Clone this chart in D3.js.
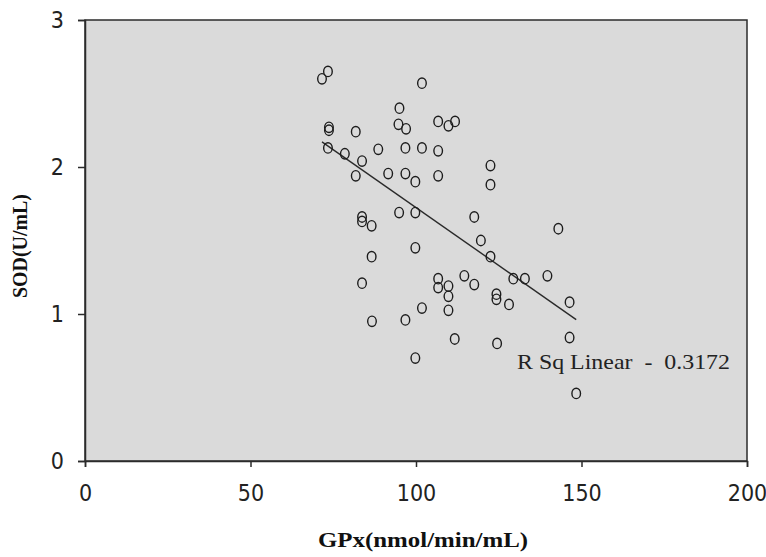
<!DOCTYPE html>
<html>
<head>
<meta charset="utf-8">
<script src="https://cdn.jsdelivr.net/npm/d3@7"></script>
<style>
  html, body { margin: 0; padding: 0; background: #ffffff; }
  svg { display: block; }
</style>
</head>
<body>
<svg id="chart" width="766" height="557"></svg>
<script>
// GPx activity (nmol/min/mL) and SOD activity (U/mL), one entry per subject
const gpx = [
  71.6, 73.4, 73.7, 73.7, 73.4, 81.8, 78.5, 83.7, 81.8, 88.6,
  91.6, 95.0, 94.7, 97.0, 96.8, 96.8, 99.8, 101.8, 101.8, 106.7,
  109.8, 111.8, 106.7, 106.7, 122.5, 122.5, 94.9, 99.8, 83.7, 83.7,
  86.6, 117.6, 119.6, 122.5, 99.8, 86.6, 83.7, 106.7, 106.7, 109.8,
  109.8, 114.6, 117.6, 109.8, 101.8, 96.8, 86.7, 111.7, 99.8, 124.3,
  124.3, 124.5, 143.0, 129.4, 132.9, 139.7, 128.1, 146.4, 146.4, 148.4
];
const sod = [
  2.60, 2.65, 2.27, 2.25, 2.13, 2.24, 2.09, 2.04, 1.94, 2.12,
  1.955, 2.40, 2.29, 2.26, 2.13, 1.955, 1.90, 2.57, 2.13, 2.31,
  2.28, 2.31, 2.11, 1.94, 2.01, 1.88, 1.69, 1.69, 1.66, 1.63,
  1.60, 1.66, 1.50, 1.39, 1.45, 1.39, 1.21, 1.24, 1.18, 1.19,
  1.12, 1.26, 1.20, 1.025, 1.04, 0.96, 0.95, 0.83, 0.70, 1.135,
  1.10, 0.80, 1.58, 1.24, 1.24, 1.26, 1.065, 1.08, 0.84, 0.46
];

// Axis ticks and titles
const xTicks = [0, 50, 100, 150, 200];
const yTicks = [0, 1, 2, 3];
const xTitle = "GPx(nmol/min/mL)";
const yTitle = "SOD(U/mL)";

// Linear fit of SOD on GPx
const trendSlope = -0.01575;
const trendIntercept = 3.299;
const rSquared = 0.3172;

const plot = { left: 85, right: 747, top: 20, bottom: 461 };

const svg = d3.select("#chart");

const x = d3.scaleLinear().domain([0, 200]).range([plot.left, plot.right]);
const y = d3.scaleLinear().domain([0, 3]).range([plot.bottom, plot.top]);

const tickFont = "'Liberation Sans Narrow', 'DejaVu Sans Condensed', 'Liberation Sans', sans-serif";
const titleFont = "'Liberation Serif', 'DejaVu Serif', serif";

// Plot area background and frame
svg.append("rect")
  .attr("x", plot.left).attr("y", plot.top)
  .attr("width", plot.right - plot.left).attr("height", plot.bottom - plot.top)
  .attr("fill", "#dadada")
  .attr("stroke", "#2b2b2b")
  .attr("stroke-width", 1.5);

// Axes
const xAxis = svg.append("g")
  .attr("transform", `translate(0,${plot.bottom})`)
  .call(d3.axisBottom(x).tickValues(xTicks).tickSize(6).tickPadding(18).tickFormat(d3.format("d")));

const yAxis = svg.append("g")
  .attr("transform", `translate(${plot.left},0)`)
  .call(d3.axisLeft(y).tickValues(yTicks).tickSize(7).tickPadding(14).tickFormat(d3.format("d")));

[xAxis, yAxis].forEach(g => {
  g.select(".domain").attr("stroke", "#2b2b2b").attr("stroke-width", 1.5);
  g.selectAll(".tick line").attr("stroke", "#2b2b2b").attr("stroke-width", 1.5);
  g.selectAll(".tick text")
    .attr("fill", "#222")
    .style("font-family", tickFont)
    .style("font-size", "23px");
});

// Trend line over the observed GPx range
const xExtent = d3.extent(gpx);
svg.append("line")
  .attr("x1", x(xExtent[0])).attr("y1", y(trendIntercept + trendSlope * xExtent[0]))
  .attr("x2", x(xExtent[1])).attr("y2", y(trendIntercept + trendSlope * xExtent[1]))
  .attr("stroke", "#2a2a2a")
  .attr("stroke-width", 1.4);

// Observations as hollow markers
svg.append("g")
  .selectAll("ellipse")
  .data(gpx.map((g, i) => [g, sod[i]]))
  .join("ellipse")
  .attr("cx", d => x(d[0]))
  .attr("cy", d => y(d[1]))
  .attr("rx", 4.3)
  .attr("ry", 5.2)
  .attr("fill", "none")
  .attr("stroke", "#1c1c1c")
  .attr("stroke-width", 1.4);

// Goodness-of-fit label
svg.append("text")
  .attr("x", 517).attr("y", 369)
  .attr("textLength", 213).attr("lengthAdjust", "spacingAndGlyphs")
  .attr("fill", "#222")
  .style("font-family", titleFont)
  .style("font-size", "21px")
  .style("white-space", "pre")
  .text(`R Sq Linear\u00a0\u00a0-\u00a0\u00a0${rSquared.toFixed(4)}`);

// Axis titles
svg.append("text")
  .attr("x", 423).attr("y", 547)
  .attr("text-anchor", "middle")
  .attr("textLength", 210).attr("lengthAdjust", "spacingAndGlyphs")
  .attr("fill", "#111")
  .style("font-family", titleFont)
  .style("font-size", "20px")
  .style("font-weight", "bold")
  .text(xTitle);

svg.append("text")
  .attr("transform", "translate(27,246) rotate(-90)")
  .attr("text-anchor", "middle")
  .attr("textLength", 104).attr("lengthAdjust", "spacingAndGlyphs")
  .attr("fill", "#111")
  .style("font-family", titleFont)
  .style("font-size", "20px")
  .style("font-weight", "bold")
  .text(yTitle);
</script>
</body>
</html>
